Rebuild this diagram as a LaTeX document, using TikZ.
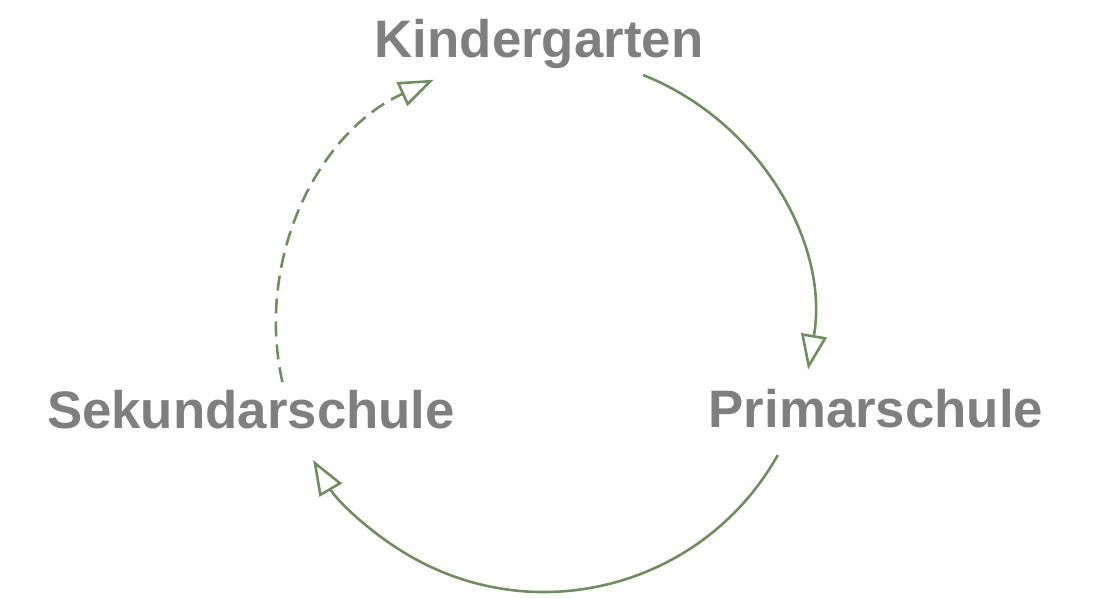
\documentclass[tikz,border=0pt]{standalone}
\usepackage{fontspec}
\setmainfont{Liberation Sans}
\usepackage{tikz}
\usetikzlibrary{arrows.meta,calc,positioning}

\definecolor{stagegray}{HTML}{7F7F7F}
\definecolor{cyclegreen}{HTML}{6F8D60}

\begin{document}
\begin{tikzpicture}[x=1pt, y=1pt,
    stage/.style = {anchor=base, text=stagegray, inner sep=0pt,
                    font=\fontsize{52.8}{60}\selectfont\bfseries},
    cycle/.style = {draw=cyclegreen, line width=2.6pt,
                    -{Triangle[open, length=35pt, width=26pt]}}]
  \useasboundingbox (0,0) rectangle (1101,598);

  \coordinate (c) at (544,274);

  \node[stage] (kg) at (539,540) {Kindergarten};
  \node[stage] (ps) at (876,171) {Primarschule};
  \node[stage] (ss) at (251,170) {Sekundarschule};

  \coordinate (kg-out) at ($(c)+(68.3:268)$);
  \coordinate (ps-out) at ($(c)+(-29.3:268)$);
  \coordinate (ss-out) at ($(c)+(192.5:268)$);

  \draw[cycle] (kg-out) arc[start angle=68.3, end angle=-9.8, radius=268];
  \draw[cycle] (ps-out) arc[start angle=-29.3, end angle=-149.5, radius=268];
  \draw[cycle, dash pattern=on 15pt off 8pt] (ss-out) arc[start angle=192.5, end angle=114.3, radius=268];
\end{tikzpicture}
\end{document}
